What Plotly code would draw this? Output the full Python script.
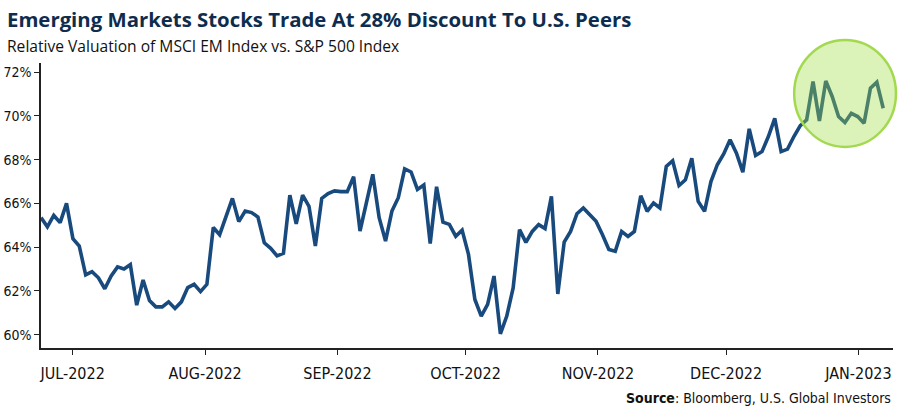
import pandas as pd
import plotly.graph_objects as go

# Relative valuation (MSCI EM / S&P 500), %
values = [65.35, 64.93, 65.45, 65.12, 66.0, 64.39, 64.05, 62.73, 62.88, 62.6,
          62.1, 62.68, 63.1, 63.0, 63.2, 61.35, 62.5, 61.56, 61.27, 61.27,
          61.5, 61.2, 61.5, 62.15, 62.3, 61.97, 62.3, 64.9, 64.57, 65.4,
          66.23, 65.17, 65.65, 65.58, 65.38, 64.2, 63.95, 63.6, 63.72, 66.38,
          65.07, 66.38, 65.87, 64.05, 66.23, 66.45, 66.57, 66.54, 66.54, 67.22,
          64.74, 66.03, 67.33, 65.35, 64.28, 65.65, 66.26, 67.58, 67.44, 66.64,
          66.84, 64.17, 66.76, 65.14, 65.04, 64.5, 64.78, 63.67, 61.61, 60.85,
          61.38, 62.68, 60.04, 60.85, 62.14, 64.8, 64.22, 64.72, 65.03, 64.85,
          66.32, 61.86, 64.23, 64.72, 65.53, 65.79, 65.48, 65.18, 64.57, 63.89,
          63.81, 64.72, 64.49, 64.72, 66.35, 65.64, 66.02, 65.79, 67.69, 67.95,
          66.82, 67.08, 68.07, 66.09, 65.64, 67.0, 67.77, 68.26, 68.91, 68.3,
          67.43, 69.41, 68.19, 68.37, 69.06, 69.89, 68.37, 68.48, 69.06, 69.56,
          69.82, 71.57, 69.77, 71.6, 70.89, 69.97, 69.7, 70.12, 69.97, 69.67,
          71.27, 71.54, 70.35]

start_date = "2022-06-23 14:00"
end_date = "2023-01-06 19:00"
axis_end = "2023-01-09 02:00"

month_ticks = ["2022-07-01", "2022-08-01", "2022-09-01", "2022-10-01",
               "2022-11-01", "2022-12-01", "2023-01-01"]
month_labels = ["JUL-2022", "AUG-2022", "SEP-2022", "OCT-2022",
                "NOV-2022", "DEC-2022", "JAN-2023"]

y_ticks = [60, 62, 64, 66, 68, 70, 72]
y_labels = [f"{v}%" for v in y_ticks]

title = "Emerging Markets Stocks Trade At 28% Discount To U.S. Peers"
subtitle = "Relative Valuation of MSCI EM Index vs. S&P 500 Index"
source = "<b>Source</b>: Bloomberg, U.S. Global Investors"

dates = pd.date_range(start_date, end_date, periods=len(values))

fig = go.Figure()
fig.add_trace(go.Scatter(
    x=dates, y=values, mode="lines",
    line=dict(color="#184a7e", width=3.6),
    hoverinfo="skip", showlegend=False,
))

narrow = "DejaVu Sans Condensed, Liberation Sans Narrow, Roboto, sans-serif"

fig.update_layout(
    width=900, height=411,
    margin=dict(l=41, r=7, t=63, b=63),
    paper_bgcolor="white", plot_bgcolor="white",
    showlegend=False,
    xaxis=dict(
        type="date", automargin=False,
        range=[start_date, axis_end],
        tickvals=month_ticks, ticktext=month_labels,
        showgrid=False, zeroline=False,
        showline=True, linecolor="#222222", linewidth=1.5,
        ticks="outside", ticklen=5, tickwidth=1.2, tickcolor="#222222",
        ticklabelstandoff=5,
        tickfont=dict(family=narrow, size=16, color="#111111"),
    ),
    yaxis=dict(
        automargin=False,
        range=[59.39, 72.42],
        tickvals=y_ticks, ticktext=y_labels,
        showgrid=False, zeroline=False,
        showline=True, linecolor="#222222", linewidth=1.5,
        ticks="outside", ticklen=5, tickwidth=1.2, tickcolor="#222222",
        tickfont=dict(family=narrow, size=14, color="#111111"),
    ),
    shapes=[dict(
        type="circle", xref="paper", yref="paper",
        x0=0.884, x1=1.0035, y0=0.7056, y1=1.0806,
        fillcolor="rgba(160,221,72,0.38)",
        line=dict(color="#a3d94f", width=2.5),
        layer="above",
    )],
    annotations=[
        dict(text=f"<b>{title}</b>", xref="paper", yref="paper",
             x=-0.0423, y=1.154, xanchor="left", yanchor="middle",
             showarrow=False,
             font=dict(family="Open Sans, sans-serif", size=20.35, color="#0e2d4e")),
        dict(text=subtitle, xref="paper", yref="paper",
             x=-0.0423, y=1.06, xanchor="left", yanchor="middle",
             showarrow=False,
             font=dict(family="Open Sans, sans-serif", size=15.6, color="#111111")),
        dict(text=source, xref="paper", yref="paper",
             x=1.0, y=-0.174, xanchor="right", yanchor="middle",
             showarrow=False,
             font=dict(family=narrow, size=14, color="#111111")),
    ],
)

fig.write_html("out.html", config={"displayModeBar": False},
               post_script="document.body.style.margin='0px';")
